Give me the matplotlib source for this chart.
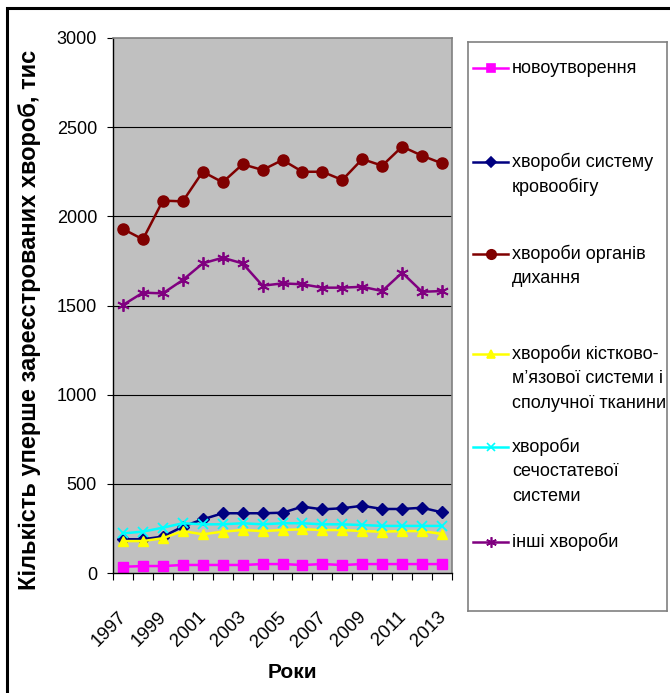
import matplotlib.pyplot as plt
from matplotlib.patches import Rectangle
from matplotlib.transforms import ScaledTranslation

plt.rcParams['font.family'] = ['Liberation Sans', 'DejaVu Sans']

# data (thousands of cases)
years = list(range(1997, 2014))
novoutvorennia = [35, 39, 39, 45, 45, 45, 45, 50, 50, 45, 50, 45, 50, 50, 50, 50, 50]
krovoobig = [189, 189, 204, 260, 301, 335, 335, 335, 338, 372, 357, 363, 377, 359, 359, 366, 340]
dykhannia = [1929, 1871, 2088, 2084, 2250, 2191, 2292, 2260, 2316, 2250, 2250, 2204, 2321, 2284, 2391, 2340, 2297]
kistkovo = [179, 179, 195, 235, 217, 232, 241, 235, 241, 245, 241, 241, 235, 232, 235, 235, 219]
sechostat = [222, 232, 254, 279, 273, 273, 279, 273, 279, 279, 273, 273, 269, 264, 264, 264, 264]
inshi = [1503, 1572, 1568, 1643, 1736, 1768, 1736, 1611, 1624, 1619, 1600, 1600, 1605, 1581, 1684, 1577, 1581]

legend_lines = [["новоутворення"],
                ["хвороби системy", "кровообігу"],
                ["хвороби органів", "дихання"],
                ["хвороби кістково-", "м’язової системи і", "сполучної тканини"],
                ["хвороби", "сечостатевої", "системи"],
                ["інші хвороби"]]

series = [novoutvorennia, krovoobig, dykhannia, kistkovo, sechostat, inshi]
colors = ['#FF00FF', '#000080', '#800000', '#FFFF00', '#00FFFF', '#800080']
markers = ['s', 'D', 'o', '^', 'x', (6, 2, 0)]
msizes = [7, 6, 8, 7.5, 7, 9]

W, H = 670, 693
fig = plt.figure(figsize=(W / 100, H / 100), dpi=100)
fig.patch.set_facecolor('white')

def fx(px):
    return px / W

def fy(py):
    return 1 - py / H

ax = fig.add_axes([fx(113), fy(573), fx(452) - fx(113), fy(38) - fy(573)])
ax.set_facecolor('#C0C0C0')

x = list(range(len(years)))
for vals, c, m, s in zip(series, colors, markers, msizes):
    mew = 1.3 if m in ('x',) or isinstance(m, tuple) else 1
    ax.plot(x, vals, color=c, marker=m, markersize=s, linewidth=1.8,
            markeredgecolor=c, markerfacecolor=c, markeredgewidth=mew, clip_on=False)

ax.set_xlim(-0.5, len(years) - 0.5)
ax.set_ylim(0, 3000)
ax.set_yticks(range(0, 3001, 500))
ax.yaxis.grid(True, color='black', linewidth=0.8)
ax.set_axisbelow(True)
ax.get_ygridlines()[-1].set_visible(False)
ax.get_ygridlines()[0].set_visible(False)

ax.set_xticks(x)
ax.set_xticklabels([str(y) if i % 2 == 0 else '' for i, y in enumerate(years)],
                   rotation=45, ha='right', va='top', rotation_mode='anchor')
ax.set_xticks([i - 0.5 for i in range(len(years) + 1)], minor=True)
ax.tick_params(axis='x', which='major', length=0, pad=12, labelsize=13.5)
ax.tick_params(axis='x', which='minor', length=5, width=0.8, color='black')
ax.tick_params(axis='y', length=4.5, width=0.8, pad=7, labelsize=13)
shift = ScaledTranslation(-0.05, -0.19, fig.dpi_scale_trans)
for lab in ax.get_xticklabels():
    lab.set_transform(lab.get_transform() + shift)

for side in ['top', 'right']:
    ax.spines[side].set_color('#808080')
    ax.spines[side].set_linewidth(1.2)
for side in ['left', 'bottom']:
    ax.spines[side].set_color('black')
    ax.spines[side].set_linewidth(1)

fig.text(fx(30), fy(320), 'Кількість уперше зареєстрованих хвороб, тис',
         rotation=90, ha='center', va='center', fontsize=17, fontweight='bold')
fig.text(fx(292), fy(672), 'Роки', ha='center', va='center', fontsize=15, fontweight='bold')

# legend box drawn by hand so the handle sits on the first text line
lax = fig.add_axes([fx(468), fy(611), fx(667) - fx(468), fy(42) - fy(611)])
lax.set_xlim(0, 199)
lax.set_ylim(569, 0)
lax.set_xticks([])
lax.set_yticks([])
for sp in lax.spines.values():
    sp.set_color('#808080')
    sp.set_linewidth(1.2)

first_line_y = [26, 120, 212, 312, 405, 500]
for lines, y0, c, m, s in zip(legend_lines, first_line_y, colors, markers, msizes):
    lax.plot([5, 40], [y0, y0], color=c, linewidth=1.8)
    lax.plot([22.5], [y0], color=c, marker=m, markersize=s * 0.85,
             markerfacecolor=c, markeredgecolor=c, markeredgewidth=1.2)
    for k, t in enumerate(lines):
        lax.text(44, y0 + k * 24.5, t, fontsize=13, va='center', ha='left')

# outer frame, cut off on the right and bottom like the source image
fig.patches.append(Rectangle((fx(6.5), fy(720)), fx(700), fy(8) - fy(720),
                             transform=fig.transFigure, fill=False,
                             edgecolor='black', linewidth=2.2, clip_on=False))

fig.savefig('out.png', dpi=100)
